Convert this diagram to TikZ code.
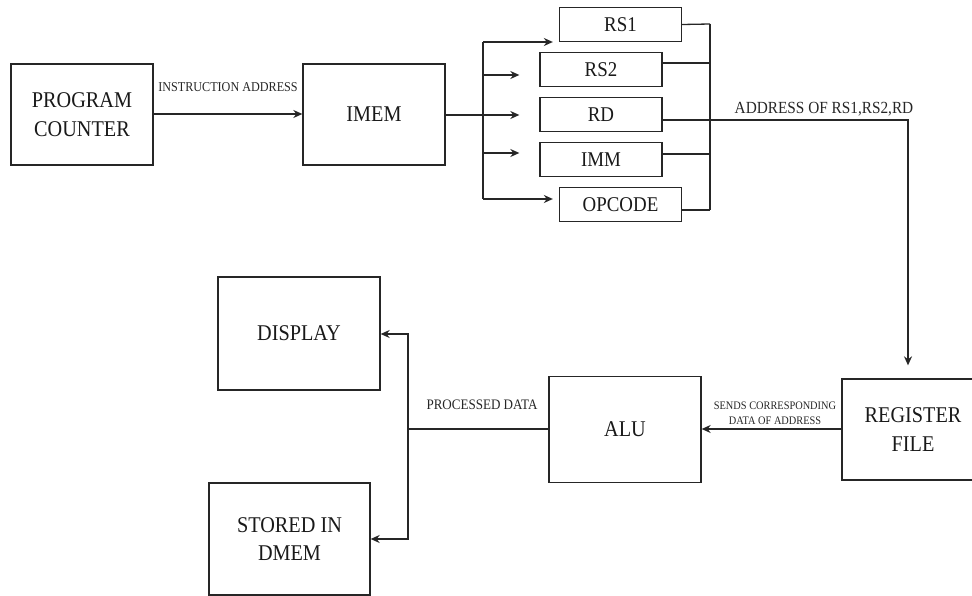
\documentclass[tikz,border=0pt]{standalone}
\usepackage{fontspec}
\setmainfont{Liberation Serif}[FakeStretch=0.9]
\usetikzlibrary{arrows.meta}
\begin{document}
\begin{tikzpicture}[x=1pt,y=-1pt,
  box/.style={draw=black!85, line width=1.3pt, inner sep=0pt, align=center, text=black!90,
    font=\fontsize{22.5}{28.5}\selectfont},
  bigbox/.style={box, minimum width=142pt, minimum height=101pt},
  fieldbox/.style={box, minimum width=122pt, minimum height=34pt, font=\fontsize{21}{24}\selectfont},
  wire/.style={draw=black!85, line width=1.3pt},
  arr/.style={wire, -{Stealth[length=9pt,width=8pt]}},
  lbl/.style={text=black!85, inner sep=0pt, align=center}
]
\useasboundingbox (0,0) rectangle (972,596);

% main boxes
\node[bigbox] (pc) at (82,114.5) {PROGRAM\\COUNTER};
\node[bigbox] (imem) at (374,114.5) {IMEM};
\node[fieldbox] (rs1) at (620.5,24.5) {RS1};
\node[fieldbox] (rs2) at (601,69.5) {RS2};
\node[fieldbox] (rd) at (601,114.5) {RD};
\node[fieldbox] (imm) at (601,159.5) {IMM};
\node[fieldbox] (opc) at (620.5,204.5) {OPCODE};
\node[bigbox] (rf) at (913,429.5) {REGISTER\\FILE};
\node[bigbox, minimum width=152pt, minimum height=106pt] (alu) at (625,429.5) {ALU};
\node[bigbox, minimum width=162pt, minimum height=113pt] (disp) at (299,333.5) {DISPLAY};
\node[bigbox, minimum width=161pt, minimum height=112pt] (dmem) at (289.5,539) {STORED IN\\DMEM};

% coordinates
\coordinate (sl) at (483,115);
\coordinate (sr) at (710,120);
\coordinate (rdturn) at (908,120);
\coordinate (pd) at (408,429);

% PC -> IMEM
\draw[arr] (pc.east |- 0,114) -- (imem.west |- 0,114);
\node[lbl, font=\fontsize{13.5}{15}\selectfont] (l1) at (228,87) {INSTRUCTION ADDRESS};

% IMEM -> split
\draw[wire] (imem.east |- sl) -- (sl);
\draw[wire] (483,42) -- (483,199);
\draw[arr] (483,42) -- ([xshift=-6pt]rs1.west |- 0,42);
\draw[arr] (483,75) -- ([xshift=-20pt]rs2.west |- 0,75);
\draw[arr] (sl) -- ([xshift=-20pt]rd.west |- 0,115);
\draw[arr] (483,153) -- ([xshift=-20pt]imm.west |- 0,153);
\draw[arr] (483,199) -- ([xshift=-6pt]opc.west |- 0,199);

% fields -> right bus
\draw[wire] (710,24) -- (710,210);
\draw[wire] (rs1.east) -- (710,24);
\draw[wire] (rs2.east |- 0,63) -- (710,63);
\draw[wire] (imm.east |- 0,154) -- (710,154);
\draw[wire] (opc.east |- 0,210) -- (710,210);
\draw[arr] (rd.east |- sr) -- (rdturn) -- ([yshift=13pt]rdturn |- rf.north);
\node[lbl, font=\fontsize{17}{19}\selectfont] (l2) at (824,109) {ADDRESS OF RS1,RS2,RD};

% RF -> ALU
\draw[arr] (rf.west |- 0,429) -- (alu.east |- 0,429);
\node[lbl, font=\fontsize{11.5}{15}\selectfont] (l3) at (775,413.5) {SENDS CORRESPONDING\\DATA OF ADDRESS};

% ALU -> display / dmem
\draw[wire] (alu.west |- pd) -- (pd);
\draw[arr] (408,429) -- (408,334) -- (disp.east |- 0,334);
\draw[arr] (408,429) -- (408,539) -- (dmem.east |- 0,539);
\node[lbl, font=\fontsize{14.5}{16}\selectfont] (l4) at (482,405) {PROCESSED DATA};
\end{tikzpicture}
\end{document}
